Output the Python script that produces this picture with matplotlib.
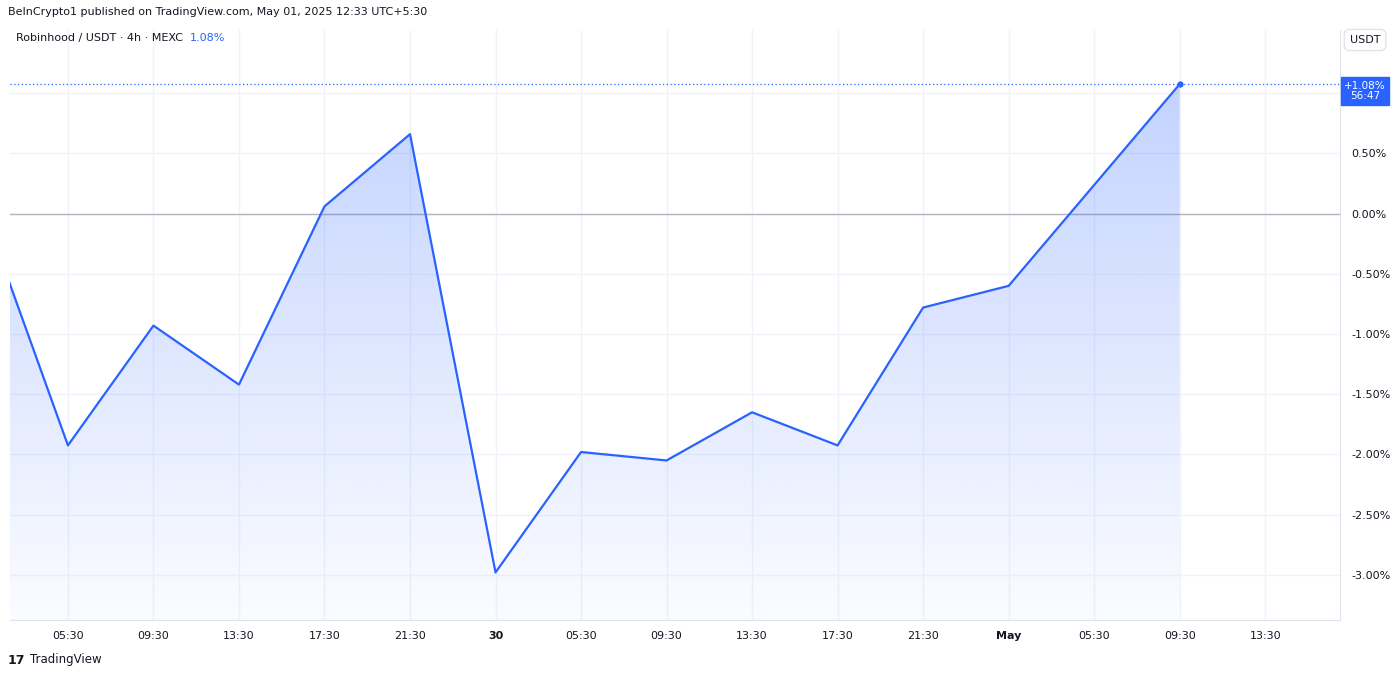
import matplotlib
matplotlib.use("Agg")
import matplotlib.pyplot as plt
import numpy as np
from matplotlib.patches import Polygon

hours = [-4, 0, 4, 8, 12, 16, 20, 24, 28, 32, 36, 40, 44, 52]
values = [0.05, -1.925, -0.93, -1.42, 0.06, 0.66, -2.98, -1.98, -2.05, -1.65, -1.925, -0.78, -0.60, 1.075]
tick_hours = list(range(0, 57, 4))
tick_labels = ["05:30", "09:30", "13:30", "17:30", "21:30", "30", "05:30", "09:30",
               "13:30", "17:30", "21:30", "May", "05:30", "09:30", "13:30"]
yticks = [0.5, 0.0, -0.5, -1.0, -1.5, -2.0, -2.5, -3.0]

W, H = 1400, 676
fig = plt.figure(figsize=(14, 6.76), dpi=100)
ax = fig.add_axes([10 / W, 1 - 620 / H, 1330 / W, 590 / H])
blue = "#2962FF"
xmin, xmax = -2.71, 59.5
ymin, ymax = -3.375, 1.525

for t in tick_hours:
    ax.axvline(t, color="#f0f3fa", lw=1, zorder=0)
for v in yticks + [1.0]:
    ax.axhline(v, color="#f0f3fa", lw=1, zorder=0)
ax.axhline(0, color="#b2b5be", lw=1, zorder=1)

grad = np.linspace(0.28, 0.02, 256).reshape(-1, 1)
rgba = np.zeros((256, 1, 4))
rgba[..., 0] = 0x29 / 255; rgba[..., 1] = 0x62 / 255; rgba[..., 2] = 1.0
rgba[..., 3] = grad
im = ax.imshow(rgba, extent=[xmin, xmax, ymin, max(values)], aspect="auto", zorder=2)
poly = Polygon(list(zip(hours, values)) + [(hours[-1], ymin), (hours[0], ymin)],
               closed=True, transform=ax.transData, facecolor="none", edgecolor="none")
ax.add_patch(poly)
im.set_clip_path(poly)

ax.plot(hours, values, color=blue, lw=1.6, zorder=3)
ax.plot(hours[-1], values[-1], "o", color=blue, ms=3.5, zorder=4)
ax.axhline(values[-1], color=blue, lw=0.9, ls=(0, (1, 2)), zorder=1)

ax.set_xticks(tick_hours)
ax.set_xticklabels(tick_labels, fontsize=8, color="#131722")
for lbl, txt in zip(ax.get_xticklabels(), tick_labels):
    if txt in ("30", "May"):
        lbl.set_fontweight("bold")
ax.yaxis.tick_right()
ax.set_yticks(yticks)
ax.set_yticklabels([f"{v:.2f}%" for v in yticks], fontsize=8, color="#131722")
ax.tick_params(length=0, pad=8)
for s in ["top", "left"]:
    ax.spines[s].set_visible(False)
ax.spines["right"].set_color("#e0e3eb")
ax.spines["bottom"].set_color("#e0e3eb")
ax.set_xlim(xmin, xmax)
ax.set_ylim(ymin, ymax)

fig.text(8 / W, 1 - 12 / H, "BeInCrypto1 published on TradingView.com, May 01, 2025 12:33 UTC+5:30",
         fontsize=8, color="#131722", va="center")
fig.text(16 / W, 1 - 38 / H, "Robinhood / USDT · 4h · MEXC", fontsize=8, color="#131722", va="center")
fig.text(190 / W, 1 - 38 / H, "1.08%", fontsize=8, color=blue, va="center")
fig.text(1365 / W, 1 - 40 / H, "USDT", fontsize=8, color="#131722", va="center", ha="center",
         bbox=dict(boxstyle="round,pad=0.5", fc="white", ec="#e0e3eb"))
fig.text(1365 / W, 1 - 91 / H, "+1.08%\n56:47", fontsize=7.5, color="white", va="center", ha="center",
         linespacing=1.1, bbox=dict(boxstyle="square,pad=0.35", fc=blue, ec=blue))
fig.text(8 / W, 1 - 660 / H, "17", fontsize=9, color="#131722", va="center", fontweight="bold")
fig.text(30 / W, 1 - 660 / H, "TradingView", fontsize=8.5, color="#131722", va="center")
fig.savefig("out.png", dpi=100)
